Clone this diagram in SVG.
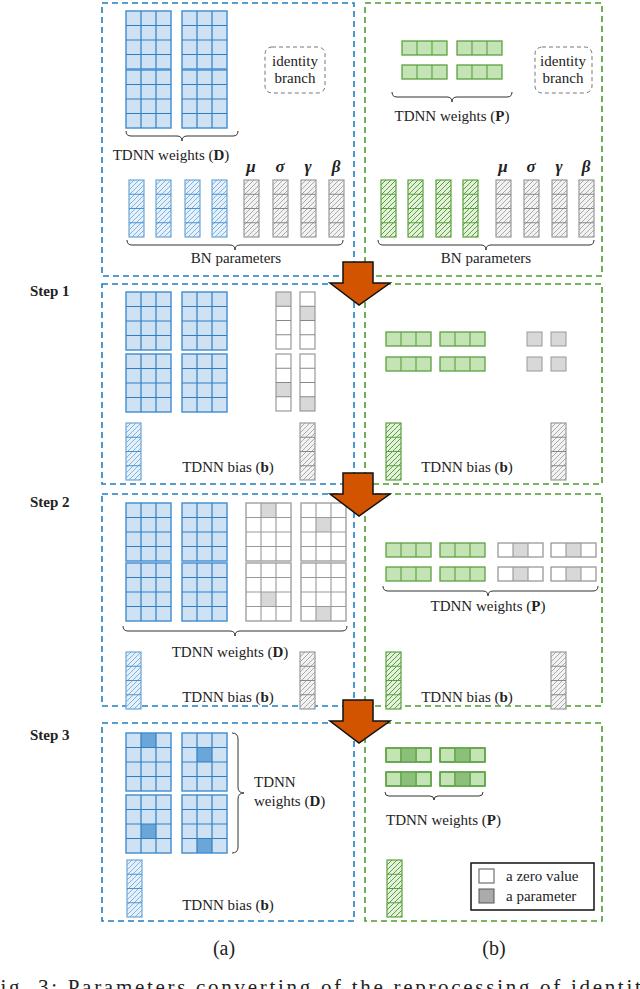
<svg xmlns="http://www.w3.org/2000/svg" width="640" height="989" viewBox="0 0 640 989" font-family="'Liberation Serif', 'DejaVu Serif', serif">
<style>
text{font-family:'Liberation Serif','DejaVu Serif',serif;fill:#222}
.t{font-size:15px}
.c{text-anchor:middle}
.bold{font-weight:bold}
.gk{font-size:17px;font-weight:bold;font-style:italic;text-anchor:middle}
.pa{fill:none;stroke:#1f7fc4;stroke-width:1.6;stroke-dasharray:6 4}
.pb{fill:none;stroke:#4e9a2e;stroke-width:1.6;stroke-dasharray:6 4}
.br{fill:none;stroke:#333;stroke-width:1}
.arrow{fill:#d35400;stroke:#111;stroke-width:1.5}
.hl{fill:#d8d8d8;stroke:none}
.hb{fill:#6aa6d8;stroke:none}
.hg{fill:#8cc07a;stroke:none}
</style>
<defs>
<pattern id="hB" width="5" height="5" patternUnits="userSpaceOnUse"><rect width="5" height="5" fill="#e6f0fa"/><path d="M0 5L5 0M-1 1L1 -1M4 6L6 4" stroke="#7fb3e0" stroke-width="1"/></pattern>
<pattern id="hG" width="5" height="5" patternUnits="userSpaceOnUse"><rect width="5" height="5" fill="#e4f2dc"/><path d="M0 5L5 0M-1 1L1 -1M4 6L6 4" stroke="#5aa03f" stroke-width="1"/></pattern>
<pattern id="hR" width="5" height="5" patternUnits="userSpaceOnUse"><rect width="5" height="5" fill="#f2f2f2"/><path d="M0 5L5 0M-1 1L1 -1M4 6L6 4" stroke="#aaa" stroke-width="1"/></pattern>
<g id="bgrid"><rect width="45" height="58" fill="#cfe2f3" stroke="#4a93d2" stroke-width="1.5"/><path d="M15 0V58M30 0V58M0 14.5H45M0 29H45M0 43.5H45" stroke="#2f7fc4" stroke-width="1.2"/></g>
<g id="bgridO"><rect width="45" height="58" fill="none" stroke="#4a93d2" stroke-width="1.5"/><path d="M15 0V58M30 0V58M0 14.5H45M0 29H45M0 43.5H45" stroke="#2f7fc4" stroke-width="1.2"/></g>
<g id="wgrid"><rect width="45" height="58" fill="none" stroke="#999" stroke-width="1.3"/><path d="M15 0V58M30 0V58M0 14.5H45M0 29H45M0 43.5H45" stroke="#999" stroke-width="1.1"/></g>
<g id="gbar"><rect width="45" height="14" fill="#c5e4b5" stroke="#5aa03f" stroke-width="1.3"/><path d="M15 0V14M30 0V14" stroke="#5aa03f" stroke-width="1.1"/></g>
<g id="gbarO"><rect width="45" height="14" fill="none" stroke="#5aa03f" stroke-width="1.3"/><path d="M15 0V14M30 0V14" stroke="#5aa03f" stroke-width="1.1"/></g>
<g id="wbar"><rect width="45" height="14" fill="none" stroke="#999" stroke-width="1.3"/><path d="M15 0V14M30 0V14" stroke="#999" stroke-width="1.1"/></g>
<g id="bcol"><rect width="15" height="57" fill="url(#hB)" stroke="#6aa6d8" stroke-width="1.2"/><path d="M0 14.25H15M0 28.5H15M0 42.75H15" stroke="#4a93d2"/></g>
<g id="gcol"><rect width="15" height="57" fill="url(#hG)" stroke="#5aa03f" stroke-width="1.2"/><path d="M0 14.25H15M0 28.5H15M0 42.75H15" stroke="#5aa03f"/></g>
<g id="rcol"><rect width="15" height="57" fill="url(#hR)" stroke="#999" stroke-width="1.2"/><path d="M0 14.25H15M0 28.5H15M0 42.75H15" stroke="#888"/></g>
<g id="wcol"><rect width="15" height="57" fill="none" stroke="#999" stroke-width="1.2"/><path d="M0 14.25H15M0 28.5H15M0 42.75H15" stroke="#888"/></g>
</defs>
<rect width="640" height="989" fill="#fff"/>

<g id="step-labels">
<text class="t bold" x="30" y="296">Step 1</text>
<text class="t bold" x="30" y="507">Step 2</text>
<text class="t bold" x="30" y="740">Step 3</text>
</g>

<g id="a0">
<rect class="pa" x="102" y="3" width="252" height="273"/>
<use href="#bgrid" x="126" y="11"/><use href="#bgrid" x="182" y="11"/>
<use href="#bgrid" x="126" y="70"/><use href="#bgrid" x="182" y="70"/>
<path class="br" d="M126 131q0 5 5 5H177q5 0 5 5q0-5 5-5H233q5 0 5-5"/>
<text class="t c" x="171" y="160">TDNN weights (<tspan class="bold">D</tspan>)</text>
<rect x="265" y="47" width="60" height="46" rx="7" fill="none" stroke="#777" stroke-dasharray="4 3"/>
<text class="t c" x="295" y="66">identity</text><text class="t c" x="295" y="83">branch</text>
<use href="#bcol" x="129" y="180"/><use href="#bcol" x="156" y="180"/><use href="#bcol" x="185" y="180"/><use href="#bcol" x="212" y="180"/>
<use href="#rcol" x="244" y="180"/><use href="#rcol" x="273" y="180"/><use href="#rcol" x="301" y="180"/><use href="#rcol" x="329" y="180"/>
<text class="gk" x="251" y="172">μ</text><text class="gk" x="280" y="172">σ</text><text class="gk" x="308" y="172">γ</text><text class="gk" x="336" y="172">β</text>
<path class="br" d="M127 240q0 5 5 5H230q5 0 5 5q0-5 5-5H338q5 0 5-5"/>
<text class="t c" x="236" y="263">BN parameters</text>
</g>

<g id="b0">
<rect class="pb" x="365" y="3" width="237" height="273"/>
<use href="#gbar" x="402" y="41"/><use href="#gbar" x="457" y="41"/>
<use href="#gbar" x="402" y="65"/><use href="#gbar" x="457" y="65"/>
<path class="br" d="M392 92q0 5 5 5H447q5 0 5 5q0-5 5-5H507q5 0 5-5"/>
<text class="t c" x="452" y="121">TDNN weights (<tspan class="bold">P</tspan>)</text>
<rect x="535" y="47" width="57" height="46" rx="7" fill="none" stroke="#777" stroke-dasharray="4 3"/>
<text class="t c" x="563" y="66">identity</text><text class="t c" x="563" y="83">branch</text>
<use href="#gcol" x="381" y="180"/><use href="#gcol" x="408" y="180"/><use href="#gcol" x="436" y="180"/><use href="#gcol" x="463" y="180"/>
<use href="#rcol" x="496" y="180"/><use href="#rcol" x="524" y="180"/><use href="#rcol" x="552" y="180"/><use href="#rcol" x="579" y="180"/>
<text class="gk" x="503" y="172">μ</text><text class="gk" x="531" y="172">σ</text><text class="gk" x="559" y="172">γ</text><text class="gk" x="586" y="172">β</text>
<path class="br" d="M378 240q0 5 5 5H481q5 0 5 5q0-5 5-5H589q5 0 5-5"/>
<text class="t c" x="486" y="263">BN parameters</text>
</g>

<g id="a1">
<rect class="pa" x="102" y="284" width="252" height="200"/>
<use href="#bgrid" x="126" y="292"/><use href="#bgrid" x="182" y="292"/>
<use href="#bgrid" x="126" y="354"/><use href="#bgrid" x="182" y="354"/>
<rect class="hl" x="276" y="292" width="15" height="14.25"/><rect class="hl" x="300" y="306.25" width="15" height="14.25"/>
<rect class="hl" x="276" y="382.5" width="15" height="14.25"/><rect class="hl" x="300" y="396.75" width="15" height="14.25"/>
<use href="#wcol" x="276" y="292"/><use href="#wcol" x="300" y="292"/>
<use href="#wcol" x="276" y="354"/><use href="#wcol" x="300" y="354"/>
<use href="#bcol" x="126" y="423"/><use href="#rcol" x="300" y="423"/>
<text class="t c" x="228" y="472">TDNN bias (<tspan class="bold">b</tspan>)</text>
</g>
<g id="b1">
<rect class="pb" x="365" y="284" width="237" height="200"/>
<use href="#gbar" x="386" y="332"/><use href="#gbar" x="440" y="332"/>
<use href="#gbar" x="386" y="357"/><use href="#gbar" x="440" y="357"/>
<rect x="527" y="332" width="15" height="14" fill="#d8d8d8" stroke="#999"/><rect x="551" y="332" width="15" height="14" fill="#d8d8d8" stroke="#999"/>
<rect x="527" y="357" width="15" height="14" fill="#d8d8d8" stroke="#999"/><rect x="551" y="357" width="15" height="14" fill="#d8d8d8" stroke="#999"/>
<use href="#gcol" x="386" y="423"/><use href="#rcol" x="551" y="423"/>
<text class="t c" x="467" y="472">TDNN bias (<tspan class="bold">b</tspan>)</text>
</g>

<g id="a2">
<rect class="pa" x="102" y="494" width="252" height="212"/>
<use href="#bgrid" x="126" y="503"/><use href="#bgrid" x="182" y="503"/>
<use href="#bgrid" x="126" y="563"/><use href="#bgrid" x="182" y="563"/>
<rect class="hl" x="261" y="503" width="15" height="14.5"/><rect class="hl" x="316" y="517.5" width="15" height="14.5"/>
<rect class="hl" x="261" y="592" width="15" height="14.5"/><rect class="hl" x="316" y="606.5" width="15" height="14.5"/>
<use href="#wgrid" x="246" y="503"/><use href="#wgrid" x="301" y="503"/>
<use href="#wgrid" x="246" y="563"/><use href="#wgrid" x="301" y="563"/>
<path class="br" d="M123 626q0 5 5 5H230q5 0 5 5q0-5 5-5H342q5 0 5-5"/>
<text class="t c" x="230" y="657">TDNN weights (<tspan class="bold">D</tspan>)</text>
<use href="#bcol" x="126" y="652"/><use href="#rcol" x="300" y="652"/>
<text class="t c" x="228" y="702">TDNN bias (<tspan class="bold">b</tspan>)</text>
</g>
<g id="b2">
<rect class="pb" x="365" y="494" width="237" height="212"/>
<use href="#gbar" x="386" y="543"/><use href="#gbar" x="440" y="543"/>
<use href="#gbar" x="386" y="567"/><use href="#gbar" x="440" y="567"/>
<rect class="hl" x="513" y="543" width="15" height="14"/><rect class="hl" x="566" y="543" width="15" height="14"/>
<rect class="hl" x="513" y="567" width="15" height="14"/><rect class="hl" x="566" y="567" width="15" height="14"/>
<use href="#wbar" x="498" y="543"/><use href="#wbar" x="551" y="543"/>
<use href="#wbar" x="498" y="567"/><use href="#wbar" x="551" y="567"/>
<path class="br" d="M383 586q0 5 5 5H483q5 0 5 5q0-5 5-5H593q5 0 5-5"/>
<text class="t c" x="488" y="611">TDNN weights (<tspan class="bold">P</tspan>)</text>
<use href="#gcol" x="386" y="652"/><use href="#rcol" x="551" y="652"/>
<text class="t c" x="467" y="702">TDNN bias (<tspan class="bold">b</tspan>)</text>
</g>

<g id="a3">
<rect class="pa" x="102" y="723" width="252" height="198"/>
<rect x="126" y="733" width="45" height="58" fill="#cfe2f3"/><rect x="182" y="733" width="45" height="58" fill="#cfe2f3"/>
<rect x="126" y="795" width="45" height="58" fill="#cfe2f3"/><rect x="182" y="795" width="45" height="58" fill="#cfe2f3"/>
<rect class="hb" x="141" y="733" width="15" height="14.5"/><rect class="hb" x="197" y="747.5" width="15" height="14.5"/>
<rect class="hb" x="141" y="824" width="15" height="14.5"/><rect class="hb" x="197" y="838.5" width="15" height="14.5"/>
<use href="#bgridO" x="126" y="733"/><use href="#bgridO" x="182" y="733"/>
<use href="#bgridO" x="126" y="795"/><use href="#bgridO" x="182" y="795"/>
<path class="br" d="M232 733q6 0 6 6V787q0 6 6 6q-6 0-6 6V847q0 6-6 6"/>
<text class="t" x="254" y="787">TDNN</text><text class="t" x="254" y="806">weights (<tspan class="bold">D</tspan>)</text>
<use href="#bcol" x="127" y="860"/>
<text class="t c" x="228" y="910">TDNN bias (<tspan class="bold">b</tspan>)</text>
</g>
<g id="b3">
<rect class="pb" x="365" y="723" width="237" height="198"/>
<use href="#gbar" x="386" y="748"/><use href="#gbar" x="440" y="748"/>
<use href="#gbar" x="386" y="772"/><use href="#gbar" x="440" y="772"/>
<rect class="hg" x="401" y="748" width="15" height="14"/><rect class="hg" x="455" y="748" width="15" height="14"/>
<rect class="hg" x="401" y="772" width="15" height="14"/><rect class="hg" x="455" y="772" width="15" height="14"/>
<use href="#gbarO" x="386" y="748"/><use href="#gbarO" x="440" y="748"/>
<use href="#gbarO" x="386" y="772"/><use href="#gbarO" x="440" y="772"/>
<path class="br" d="M385 792q0 4 4 4H430q4 0 4 4q0-4 4-4H479q4 0 4-4"/>
<text class="t" x="386" y="825">TDNN weights (<tspan class="bold">P</tspan>)</text>
<use href="#gcol" x="387" y="860"/>
</g>
<g id="legend">
<rect x="471" y="863" width="123" height="47" fill="#fff" stroke="#111" stroke-width="1.5"/>
<rect x="479" y="869" width="15" height="14" fill="#fff" stroke="#555"/>
<rect x="479" y="889" width="15" height="14" fill="#aaa" stroke="#555"/>
<text class="t" x="506" y="881">a zero value</text>
<text class="t" x="506" y="901">a parameter</text>
</g>

<g id="connectors">
<path class="arrow" d="M343 262H373V283H390L359 305L330 283H343Z"/>
<path class="arrow" d="M343 473H373V494H390L359 516L330 494H343Z"/>
<path class="arrow" d="M343 700H373V721H390L359 743L330 721H343Z"/>
</g>

<g id="captions">
<text x="224" y="955" style="font-size:20px" class="c">(a)</text>
<text x="494" y="955" style="font-size:20px" class="c">(b)</text>
<text x="-14" y="994" style="font-size:21px" textLength="668" lengthAdjust="spacing">Fig. 3: Parameters converting of the reprocessing of identity</text>
</g>
</svg>
